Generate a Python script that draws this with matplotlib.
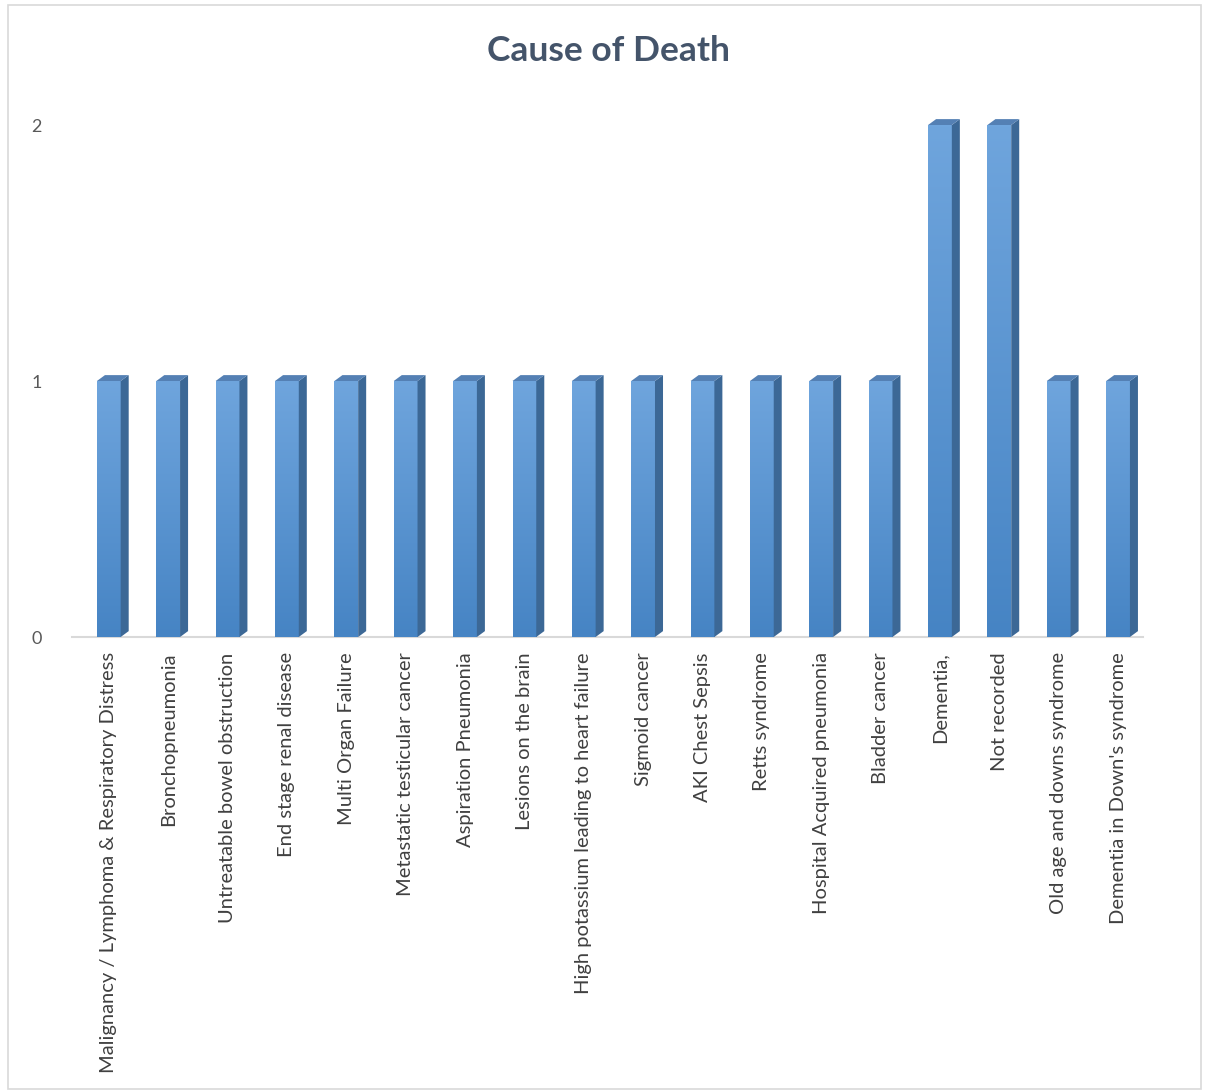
import matplotlib.pyplot as plt
import numpy as np
from matplotlib.patches import Polygon, Rectangle

# Data
causes = [
    'Malignancy / Lymphoma & Respiratory Distress',
    'Bronchopneumonia',
    'Untreatable bowel obstruction',
    'End stage renal disease',
    'Multi Organ Failure',
    'Metastatic testicular cancer',
    'Aspiration Pneumonia',
    'Lesions on the brain',
    'High potassium leading to heart failure',
    'Sigmoid cancer',
    'AKI Chest Sepsis',
    'Retts syndrome',
    'Hospital Acquired pneumonia',
    'Bladder cancer',
    'Dementia,',
    'Not recorded',
    'Old age and downs syndrome',
    "Dementia in Down's syndrome",
]
counts = [1, 1, 1, 1, 1, 1, 1, 1, 1, 1, 1, 1, 1, 1, 2, 2, 1, 1]

plt.rcParams['font.family'] = ['Lato', 'DejaVu Sans']

fig = plt.figure(figsize=(12.05, 10.92), dpi=100)
# light frame round the chart area
fig.patches.append(Rectangle((0.007, 0.003), 0.99, 0.992, transform=fig.transFigure,
                             fill=False, edgecolor='#d9d9d9', linewidth=1.2))

ax = fig.add_axes([72 / 1205, 1 - 637 / 1092, (1143 - 72) / 1205, (637 - 125) / 1092])

x = np.arange(len(causes))
width = 0.40
dx, dy = 0.135, 0.023   # 3D depth offset in data units

bars = ax.bar(x, counts, width=width, color='#5b9bd5', zorder=2)

# gradient on the front faces, side and top faces for the 3D look
grad = np.linspace(0, 1, 256).reshape(-1, 1)
cmap = plt.matplotlib.colors.LinearSegmentedColormap.from_list('face', ['#4684c4', '#6fa5dd'])
for b, v in zip(bars, counts):
    x0 = b.get_x()
    x1 = x0 + b.get_width()
    im = ax.imshow(grad, extent=[x0, x1, 0, v], origin='lower', cmap=cmap,
                   aspect='auto', zorder=3)
    im.set_clip_path(b)
    side = Polygon([[x1, 0], [x1 + dx, dy], [x1 + dx, v + dy], [x1, v]],
                   closed=True, facecolor='#3c6896', edgecolor='none', zorder=3)
    top = Polygon([[x0, v], [x0 + dx, v + dy], [x1 + dx, v + dy], [x1, v]],
                  closed=True, facecolor='#5480b4', edgecolor='none', zorder=3)
    ax.add_patch(side)
    ax.add_patch(top)
    side.set_clip_on(False)
    top.set_clip_on(False)

ax.set_xlim(-0.62, len(causes) - 0.58)
ax.set_ylim(0, 2)
ax.set_yticks([0, 1, 2])
ax.set_xticks(x)
ax.set_xticklabels(causes, rotation=90, fontsize=14.5, color='#404040')

for s in ['top', 'right', 'left']:
    ax.spines[s].set_visible(False)
ax.spines['bottom'].set_color('#d9d9d9')
ax.spines['bottom'].set_linewidth(1.5)
ax.tick_params(axis='x', length=0, pad=11)
ax.tick_params(axis='y', length=0, pad=22, labelsize=13, labelcolor='#595959')

fig.text(0.505, 0.953, 'Cause of Death', ha='center', va='center',
         fontsize=25.5, fontweight='bold', color='#44546a')

fig.savefig('out.png', dpi=100)
